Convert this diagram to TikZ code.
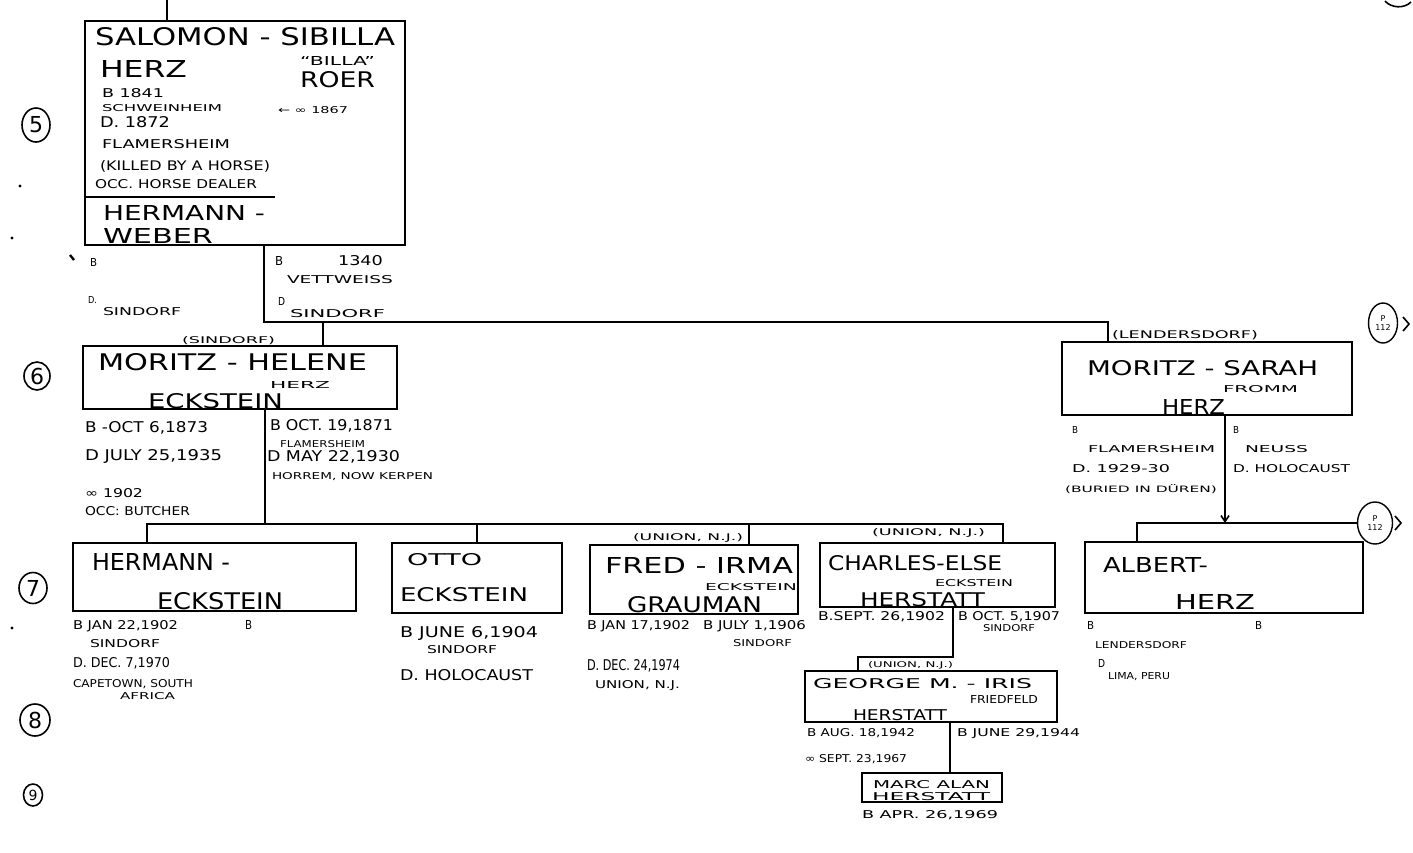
\documentclass[tikz,border=0pt]{standalone}
\usepackage{fontspec}
\usepackage{graphicx}
\setmainfont{DejaVu Sans}
\usetikzlibrary{shapes.geometric,arrows.meta}
\newlength\twd
\newlength\tht
\newcounter{tcnt}
\newcommand\tlab[5]{%
  \stepcounter{tcnt}%
  \setlength\twd{#3pt}\setlength\twd{0.5\twd}%
  \setlength\tht{#4pt}\setlength\tht{0.5\tht}%
  \node[lbl] (t\arabic{tcnt}) at (#1,#2) {\resizebox{\twd}{\tht}{#5}};}
\begin{document}
\begin{tikzpicture}[x=0.5pt,y=-0.5pt,
  famline/.style={line width=0.8pt},
  fambox/.style={draw, line width=0.9pt, inner sep=0pt, outer sep=0pt},
  lbl/.style={anchor=base west, inner sep=0pt, outer sep=0pt},
  gen/.style={draw, ellipse, line width=0.8pt, inner sep=0pt, font=\fontsize{11}{12}\selectfont},
  refc/.style={draw, ellipse, line width=0.7pt, inner sep=0pt, align=center, font=\fontsize{4}{4.6}\selectfont}]
\fill[white] (0,0) rectangle (1413,852);
\useasboundingbox (0,0) rectangle (1413,852);

% ---------- boxes ----------
\node[fambox, minimum width=160pt, minimum height=112pt] (salomon) at (245,133) {};
\node[fambox, minimum width=157pt, minimum height=31.5pt] (helene) at (240,377.5) {};
\node[fambox, minimum width=145pt, minimum height=36.5pt] (sarah) at (1207,378.5) {};
\node[fambox, minimum width=141.5pt, minimum height=34pt] (hermann) at (214.5,577) {};
\node[fambox, minimum width=85pt, minimum height=35pt] (otto) at (477,578) {};
\node[fambox, minimum width=104pt, minimum height=34.5pt] (fred) at (694,579.5) {};
\node[fambox, minimum width=117.5pt, minimum height=32pt] (charles) at (937.5,575) {};
\node[fambox, minimum width=139pt, minimum height=35.5pt] (albert) at (1224,577.5) {};
\node[fambox, minimum width=126pt, minimum height=25.5pt] (george) at (931,696.5) {};
\node[fambox, minimum width=70pt, minimum height=14.5pt] (marc) at (932,787.5) {};

% divider inside Salomon box
\coordinate (dv1) at (85,197);
\coordinate (dv2) at (275,197);
\draw[famline] (dv1) -- (dv2);

% ---------- generation circles ----------
\node[gen, minimum width=14pt, minimum height=17pt] (n5) at (36,125) {5};
\node[gen, minimum width=13pt, minimum height=14pt] (n6) at (37,376) {6};
\node[gen, minimum width=14pt, minimum height=15.5pt] (n7) at (33,588) {7};
\node[gen, minimum width=15pt, minimum height=16pt] (n8) at (35,720) {8};
\node[gen, minimum width=9.5pt, minimum height=11pt, font=\fontsize{7}{8}\selectfont] (n9) at (33,795) {9};

% reference circles
\node[refc, minimum width=14.5pt, minimum height=20pt] (pc1) at (1383,323) {P\\112};
\node[refc, minimum width=17.5pt, minimum height=21pt] (pc2) at (1375,523) {P\\112};
\coordinate (ch1a) at (1403,317); \coordinate (ch1b) at (1409,324); \coordinate (ch1c) at (1403,331);
\draw[famline] (ch1a) -- (ch1b) -- (ch1c);
\coordinate (ch2a) at (1395,516); \coordinate (ch2b) at (1401,523); \coordinate (ch2c) at (1395,530);
\draw[famline] (ch2a) -- (ch2b) -- (ch2c);

% ---------- connectors ----------
\coordinate (top) at (167,0);
\draw[famline] (top) -- (top |- salomon.north);
\coordinate (wk) at (264,322);
\coordinate (sk) at (1108,322);
\draw[famline] (wk |- salomon.south) -- (wk) -- (sk) -- (sk |- sarah.north);
\coordinate (hd) at (323,322);
\draw[famline] (hd) -- (hd |- helene.north);
\coordinate (hk) at (265,524);
\draw[famline] (hk |- helene.south) -- (hk);
\coordinate (g7l) at (147,524);
\coordinate (g7r) at (1003,524);
\draw[famline] (g7l |- hermann.north) -- (g7l) -- (g7r) -- (g7r |- charles.north);
\coordinate (od) at (477,524);
\draw[famline] (od) -- (od |- otto.north);
\coordinate (fd) at (749,524);
\draw[famline] (fd) -- (fd |- fred.north);
\coordinate (ck) at (953,657);
\coordinate (gk) at (858,657);
\draw[famline] (ck |- charles.south) -- (ck) -- (gk) -- (gk |- george.north);
\coordinate (gm) at (950,740);
\draw[famline] (gm |- george.south) -- (gm |- marc.north);
\coordinate (sd) at (1225,523);
\draw[famline, -{Straight Barb[length=3pt,width=4pt]}] (sd |- sarah.south) -- (sd);
\coordinate (ak) at (1137,523);
\draw[famline] (ak |- albert.north) -- (ak) -- (pc2.west);

% stray marks
\coordinate (ta) at (1385,1); \coordinate (tb) at (1411,2);
\draw[famline] (ta) .. controls (1391,8) and (1404,9) .. (tb);
\coordinate (tk1) at (70,255); \coordinate (tk2) at (74,260);
\draw[line width=1.2pt] (tk1) -- (tk2);
\fill (20,186) circle (0.8pt);
\fill (12,238) circle (0.8pt);
\fill (12,628) circle (0.8pt);

% ---------- Generation 5 ----------
\tlab{95}{45}{300}{18}{SALOMON - SIBILLA}
\tlab{100}{77}{87}{17}{HERZ}
\tlab{300}{65}{75}{9}{``BILLA''}
\tlab{300}{87}{75}{16}{ROER}
\tlab{102}{97}{62}{9}{B 1841}
\tlab{102}{111}{120}{7}{SCHWEINHEIM}
\tlab{100}{127}{70}{11}{D. 1872}
\tlab{102}{148}{128}{9}{FLAMERSHEIM}
\tlab{100}{170}{170}{10}{(KILLED BY A HORSE)}
\tlab{95}{188}{162}{9}{OCC. HORSE DEALER}
\tlab{278}{113}{70}{7}{← ∞ 1867}
\tlab{103}{220}{162}{15}{HERMANN -}
\tlab{103}{243}{110}{15}{WEBER}
\tlab{90}{266}{7}{8}{B}
\tlab{88}{303}{9}{7}{D.}
\tlab{103}{315}{78}{8}{SINDORF}
\tlab{275}{265}{8}{9}{B}
\tlab{338}{265}{45}{10}{1340}
\tlab{287}{283}{106}{8}{VETTWEISS}
\tlab{278}{305}{7}{8}{D}
\tlab{290}{317}{95}{8}{SINDORF}

% ---------- Generation 6 ----------
\tlab{182}{343}{93}{7}{(SINDORF)}
\tlab{98}{370}{269}{17}{MORITZ - HELENE}
\tlab{270}{388}{60}{7}{HERZ}
\tlab{148}{408}{135}{15}{ECKSTEIN}
\tlab{85}{432}{123}{11}{B -OCT 6,1873}
\tlab{85}{460}{137}{11}{D JULY 25,1935}
\tlab{85}{497}{58}{9}{∞ 1902}
\tlab{85}{515}{105}{9}{OCC: BUTCHER}
\tlab{270}{430}{123}{11}{B OCT. 19,1871}
\tlab{280}{447}{85}{7}{FLAMERSHEIM}
\tlab{267}{461}{133}{11}{D MAY 22,1930}
\tlab{272}{479}{161}{7}{HORREM, NOW KERPEN}

\tlab{1112}{338}{146}{8}{(LENDERSDORF)}
\tlab{1087}{375}{231}{15}{MORITZ - SARAH}
\tlab{1223}{392}{75}{7}{FROMM}
\tlab{1162}{414}{63}{15}{HERZ}
\tlab{1072}{433}{6}{7}{B}
\tlab{1088}{452}{127}{7}{FLAMERSHEIM}
\tlab{1072}{472}{98}{8}{D. 1929-30}
\tlab{1065}{492}{152}{8}{(BURIED IN DÜREN)}
\tlab{1233}{433}{6}{7}{B}
\tlab{1245}{452}{63}{7}{NEUSS}
\tlab{1233}{472}{117}{8}{D. HOLOCAUST}

% ---------- Generation 7 ----------
\tlab{92}{570}{138}{17}{HERMANN -}
\tlab{157}{609}{126}{17}{ECKSTEIN}
\tlab{73}{629}{105}{9}{B JAN 22,1902}
\tlab{245}{629}{7}{9}{B}
\tlab{90}{647}{70}{8}{SINDORF}
\tlab{73}{667}{97}{10}{D. DEC. 7,1970}
\tlab{73}{687}{120}{8}{CAPETOWN, SOUTH}
\tlab{120}{699}{55}{7}{AFRICA}

\tlab{407}{565}{75}{12}{OTTO}
\tlab{400}{601}{128}{14}{ECKSTEIN}
\tlab{400}{637}{138}{11}{B JUNE 6,1904}
\tlab{427}{653}{70}{8}{SINDORF}
\tlab{400}{680}{133}{11}{D. HOLOCAUST}

\tlab{633}{540}{110}{7}{(UNION, N.J.)}
\tlab{605}{573}{188}{16}{FRED - IRMA}
\tlab{705}{590}{92}{7}{ECKSTEIN}
\tlab{627}{612}{135}{16}{GRAUMAN}
\tlab{587}{629}{103}{9}{B JAN 17,1902}
\tlab{703}{629}{103}{9}{B JULY 1,1906}
\tlab{733}{646}{59}{7}{SINDORF}
\tlab{587}{670}{93}{11}{D. DEC. 24,1974}
\tlab{595}{688}{85}{8}{UNION, N.J.}

\tlab{872}{535}{113}{7}{(UNION, N.J.)}
\tlab{828}{570}{174}{15}{CHARLES-ELSE}
\tlab{935}{586}{78}{7}{ECKSTEIN}
\tlab{860}{606}{125}{14}{HERSTATT}
\tlab{818}{620}{127}{9}{B.SEPT. 26,1902}
\tlab{958}{620}{102}{9}{B OCT. 5,1907}
\tlab{983}{631}{52}{7}{SINDORF}

\tlab{1103}{572}{105}{15}{ALBERT-}
\tlab{1175}{609}{80}{15}{HERZ}
\tlab{1087}{629}{7}{8}{B}
\tlab{1255}{629}{7}{8}{B}
\tlab{1095}{648}{92}{7}{LENDERSDORF}
\tlab{1098}{667}{7}{8}{D}
\tlab{1108}{679}{62}{7}{LIMA, PERU}

% ---------- Generations 8 and 9 ----------
\tlab{868}{667}{85}{6}{(UNION, N.J.)}
\tlab{813}{688}{219}{10}{GEORGE M. - IRIS}
\tlab{970}{703}{68}{8}{FRIEDFELD}
\tlab{853}{720}{94}{11}{HERSTATT}
\tlab{807}{736}{108}{8}{B AUG. 18,1942}
\tlab{957}{736}{123}{8}{B JUNE 29,1944}
\tlab{805}{762}{102}{8}{∞ SEPT. 23,1967}
\tlab{873}{788}{117}{8}{MARC ALAN}
\tlab{872}{800}{118}{8}{HERSTATT}
\tlab{862}{818}{136}{8}{B APR. 26,1969}
\end{tikzpicture}
\end{document}
